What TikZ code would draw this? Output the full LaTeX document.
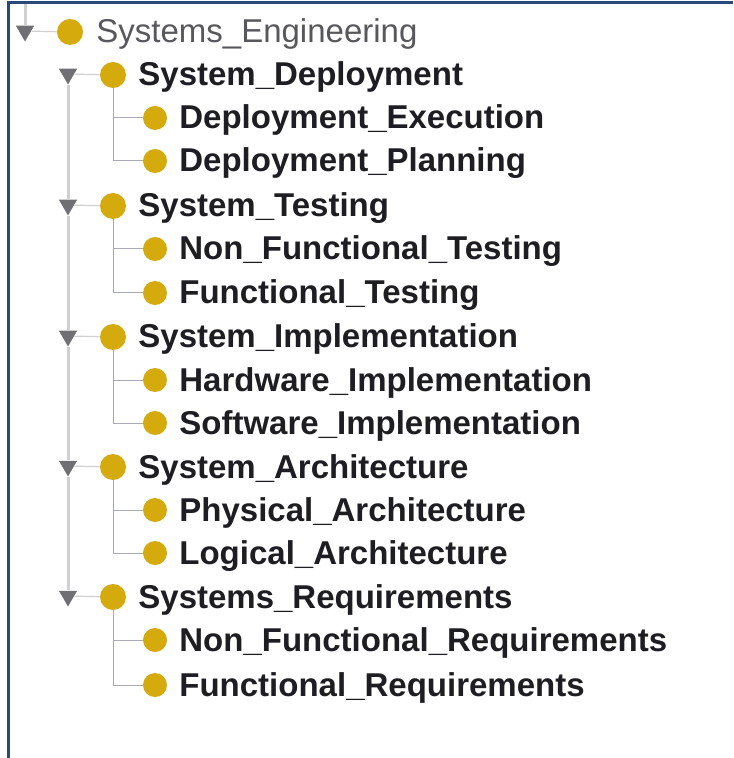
\documentclass[tikz,border=0pt]{standalone}
\usepackage{fontspec}
\setmainfont{Liberation Sans}
\usetikzlibrary{shapes.geometric}

\definecolor{gold}{RGB}{212,170,12}
\definecolor{toggrey}{RGB}{112,112,116}
\definecolor{spinegrey}{RGB}{208,208,210}
\definecolor{twiggrey}{RGB}{168,170,186}
\definecolor{framblue}{RGB}{42,72,122}
\definecolor{ink}{RGB}{30,30,34}
\definecolor{dimink}{RGB}{88,88,92}

\begin{document}
\begin{tikzpicture}[
    x=0.5pt, y=-0.5pt,
    tog/.style={regular polygon,regular polygon sides=3,shape border rotate=180,
        fill=toggrey,inner sep=0pt,minimum size=10.5pt},
    dot/.style={circle,fill=gold,inner sep=0pt,minimum size=13pt},
    subdot/.style={dot,minimum size=12pt},
    lbl/.style={anchor=base west,inner sep=0pt,text=ink,
        font=\fontsize{16.5}{18}\selectfont\bfseries},
    rootlbl/.style={lbl,text=dimink,font=\fontsize{16.5}{18}\selectfont},
    spine/.style={draw=spinegrey,line width=1.5pt},
    branch/.style={draw=spinegrey,line width=0.6pt},
    twig/.style={draw=twiggrey,line width=0.5pt}
]
\useasboundingbox (0,0) rectangle (733,758);

% window edge
\draw[framblue,line width=1.5pt] (733,3) -| (8,758);

% root class
\coordinate (stub) at (25,4);
\node[tog] (g0) at (25,31) {};
\node[dot] (d0) at (70,32) {};
\node[rootlbl] (t0) at (96,43) {Systems\_Engineering};

% first level
\node[tog] (g1) at (68,74) {};
\node[dot] (d1) at (113,75) {};
\node[lbl] (t1) at (138,86) {System\_Deployment};

\node[tog] (g2) at (68,205) {};
\node[dot] (d2) at (113,206) {};
\node[lbl] (t2) at (138,217) {System\_Testing};

\node[tog] (g3) at (68,336) {};
\node[dot] (d3) at (113,337) {};
\node[lbl] (t3) at (138,348) {System\_Implementation};

\node[tog] (g4) at (68,466) {};
\node[dot] (d4) at (113,467) {};
\node[lbl] (t4) at (138,478) {System\_Architecture};

\node[tog] (g5) at (68,596) {};
\node[dot] (d5) at (113,597) {};
\node[lbl] (t5) at (138,608) {Systems\_Requirements};

% leaves
\node[subdot] (c11) at (155,118) {};
\node[lbl] (l11) at (179,129) {Deployment\_Execution};
\node[subdot] (c12) at (155,161) {};
\node[lbl] (l12) at (179,172) {Deployment\_Planning};

\node[subdot] (c21) at (155,249) {};
\node[lbl] (l21) at (179,260) {Non\_Functional\_Testing};
\node[subdot] (c22) at (155,293) {};
\node[lbl] (l22) at (179,304) {Functional\_Testing};

\node[subdot] (c31) at (155,380) {};
\node[lbl] (l31) at (179,391) {Hardware\_Implementation};
\node[subdot] (c32) at (155,423) {};
\node[lbl] (l32) at (179,434) {Software\_Implementation};

\node[subdot] (c41) at (155,510) {};
\node[lbl] (l41) at (179,521) {Physical\_Architecture};
\node[subdot] (c42) at (155,553) {};
\node[lbl] (l42) at (179,564) {Logical\_Architecture};

\node[subdot] (c51) at (155,640) {};
\node[lbl] (l51) at (179,651) {Non\_Functional\_Requirements};
\node[subdot] (c52) at (155,685) {};
\node[lbl] (l52) at (179,696) {Functional\_Requirements};

% tree lines
\draw[spine] (stub) -- (g0);
\draw[spine] (g1) -- (g2);
\draw[spine] (g2) -- (g3);
\draw[spine] (g3) -- (g4);
\draw[spine] (g4) -- (g5);
\foreach \i in {0,...,5} \draw[branch] (g\i) -- (d\i);

\foreach \i in {1,...,5} {
  \draw[twig] (d\i) |- (c\i2);
  \draw[twig] (d\i |- c\i1) -- (c\i1);
}
\end{tikzpicture}
\end{document}
